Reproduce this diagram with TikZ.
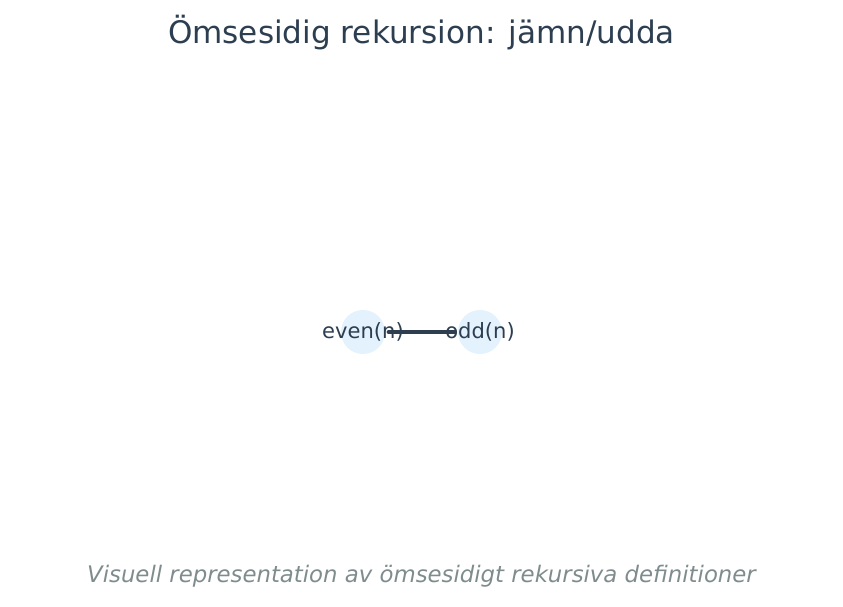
\documentclass[tikz,border=0pt]{standalone}
\usepackage{fontspec}
\setmainfont{DejaVu Sans}
\usetikzlibrary{positioning}
\definecolor{ink}{HTML}{2C3E50}
\definecolor{grayink}{HTML}{7F8C8D}
\definecolor{bubble}{HTML}{E3F2FD}

\begin{document}
\begin{tikzpicture}
   [x=0.75pt,y=-0.75pt,
	vert/.style={circle,fill=bubble,draw=none,minimum size=33pt,inner sep=0pt,
	 label={[text=ink,font=\fontsize{15.8}{19}\selectfont]center:#1}},
	link/.style={ink,line width=3pt,line cap=round,shorten <=2.5pt,shorten >=2pt}]

\useasboundingbox (0,0) rectangle (843,607);

\node [text=ink,font=\fontsize{23.3}{28}\selectfont] (title) at (421.5,33) {Ömsesidig rekursion: jämn/udda};

\node [vert=even(n)] (even) at (363,332) {};
\node [vert=odd(n)] (odd) at (480,332) {};
\draw [link] (even) -- (odd);

\node [text=grayink,font=\fontsize{17.1}{20}\selectfont\itshape] (sub) at (421.5,576) {Visuell representation av ömsesidigt rekursiva definitioner};
\end{tikzpicture}
\end{document}
